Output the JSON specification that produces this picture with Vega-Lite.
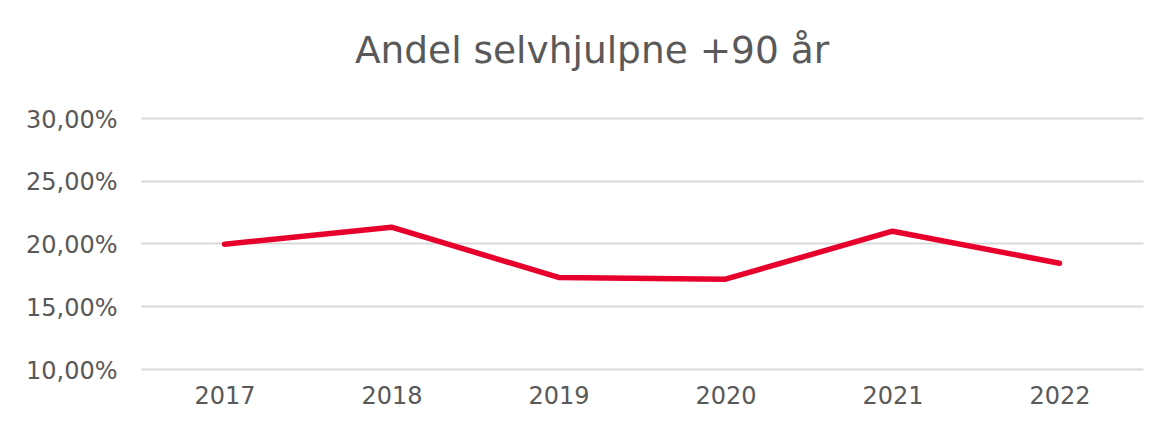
{
  "$schema": "https://vega.github.io/schema/vega-lite/v6.json",
  "autosize": {"type": "none"},
  "padding": {"left": 141, "top": 118, "right": 14, "bottom": 52},
  "width": 1002,
  "height": 251,
  "background": "white",
  "title": {
    "text": "Andel selvhjulpne +90 år",
    "font": "DejaVu Sans",
    "fontSize": 37.5,
    "fontWeight": "normal",
    "color": "#595959",
    "anchor": "middle",
    "frame": "group",
    "dx": -50,
    "baseline": "alphabetic",
    "offset": 8
  },
  "data": {
    "values": [
      {"year": "2017", "andel": 0.1994},
      {"year": "2018", "andel": 0.2130},
      {"year": "2019", "andel": 0.1730},
      {"year": "2020", "andel": 0.1716},
      {"year": "2021", "andel": 0.2098},
      {"year": "2022", "andel": 0.1843}
    ]
  },
  "mark": {"type": "line", "color": "#E8002D", "strokeWidth": 5.5, "strokeCap": "round", "strokeJoin": "round"},
  "encoding": {
    "x": {
      "field": "year",
      "type": "ordinal",
      "scale": {"type": "point", "padding": 0.5},
      "axis": {
        "title": null,
        "labelAngle": 0,
        "labelFont": "DejaVu Sans",
        "labelFontSize": 24,
        "labelColor": "#595959",
        "labelPadding": 15,
        "ticks": false,
        "domain": false,
        "grid": false
      }
    },
    "y": {
      "field": "andel",
      "type": "quantitative",
      "scale": {"domain": [0.1, 0.3], "zero": false, "nice": false},
      "axis": {
        "title": null,
        "values": [0.1, 0.15, 0.2, 0.25, 0.3],
        "labelExpr": "replace(format(datum.value, '.2%'), '.', ',')",
        "labelFont": "DejaVu Sans",
        "labelFontSize": 24,
        "labelColor": "#595959",
        "labelPadding": 24,
        "labelBaseline": "middle",
        "labelOffset": 2,
        "ticks": false,
        "domain": false,
        "grid": true,
        "gridColor": "#D9D9D9",
        "gridWidth": 2
      }
    }
  },
  "config": {"view": {"stroke": null}}
}
